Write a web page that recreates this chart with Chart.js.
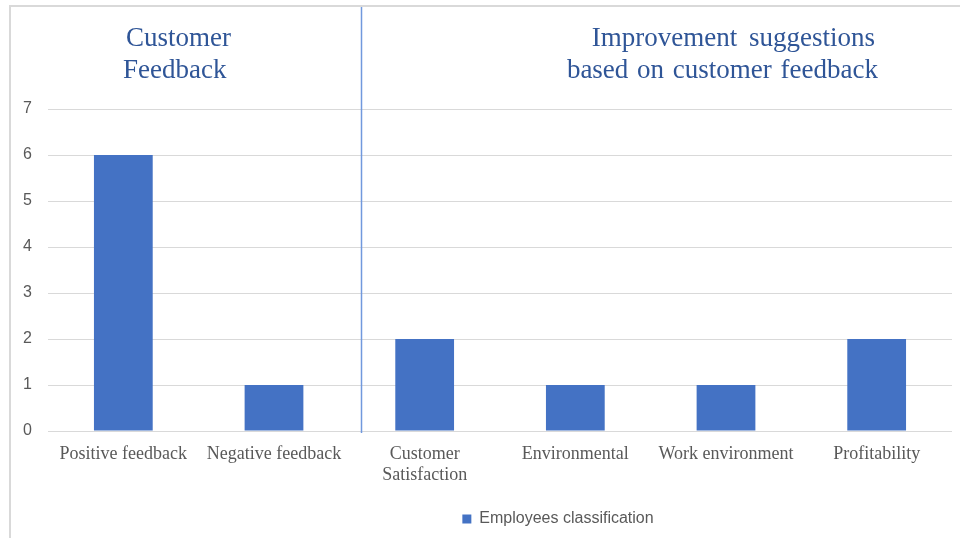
<!DOCTYPE html>
<html>
<head>
<meta charset="utf-8">
<script src="https://cdn.jsdelivr.net/npm/chart.js@4/dist/chart.umd.min.js"></script>
<style>
  html, body { margin: 0; padding: 0; background: #fff; overflow: hidden; }
  .wrap { position: relative; width: 960px; height: 538px; }
  .frame {
    position: absolute; left: 9px; top: 5px; width: 1000px; height: 600px;
    border: 2px solid #d9d9d9; pointer-events: none;
  }
</style>
</head>
<body>
<div class="wrap">
  <canvas id="chart" width="960" height="538"></canvas>
  <div class="frame"></div>
</div>
<script>
// data
const categories = [
  "Positive feedback",
  "Negative feedback",
  ["Customer", "Satisfaction"],
  "Environmental",
  "Work environment",
  "Profitability",
];
const counts = [6, 1, 2, 1, 1, 2];
const seriesName = "Employees classification";
const yTicks = [0, 1, 2, 3, 4, 5, 6, 7];

const titleColor = "#2F5597";
const labelColor = "#595959";

// section titles + divider line between the two groups
const sectionPlugin = {
  id: "sections",
  afterLayout(chart) {
    // legend in the original sits right of centre
    if (chart.legend) {
      chart.legend.left += 82;
      chart.legend.right += 82;
    }
  },
  afterDraw(chart) {
    const ctx = chart.ctx;
    const x = chart.scales.x;
    const divX = Math.round(x.getPixelForValue(1.58)) + 0.5;
    ctx.save();
    ctx.strokeStyle = "#7199DD";
    ctx.lineWidth = 1.5;
    ctx.beginPath();
    ctx.moveTo(divX, 6);
    ctx.lineTo(divX, chart.chartArea.bottom + 2);
    ctx.stroke();

    ctx.fillStyle = titleColor;
    ctx.font = '27px "Liberation Serif"';
    ctx.textBaseline = "middle";
    ctx.textAlign = "left";
    ctx.fillText("Customer", 126, 39);
    ctx.fillText("Feedback", 123, 71);

    ctx.textAlign = "right";
    ctx.wordSpacing = "5px";
    ctx.fillText("Improvement suggestions", 875, 39);
    ctx.wordSpacing = "2px";
    ctx.fillText("based on customer feedback", 878, 71);
    ctx.restore();
  },
};

new Chart(document.getElementById("chart"), {
  type: "bar",
  data: {
    labels: categories,
    datasets: [
      {
        label: seriesName,
        data: counts,
        backgroundColor: "#4472C4",
        borderWidth: 0,
        categoryPercentage: 1,
        barPercentage: 0.39,
      },
    ],
  },
  options: {
    responsive: false,
    animation: false,
    layout: { padding: { top: 109, left: 0, right: 8, bottom: 1 } },
    scales: {
      x: {
        grid: { display: false, drawTicks: false },
        border: { display: false },
        ticks: {
          color: labelColor,
          padding: 13,
          maxRotation: 0,
          autoSkip: false,
          font: { family: "Liberation Serif", size: 18, lineHeight: 1.15 },
        },
        afterFit(scale) {
          scale.height = 70;
        },
      },
      y: {
        min: 0,
        max: 7,
        afterBuildTicks(scale) {
          scale.ticks = yTicks.map((v) => ({ value: v }));
        },
        grid: { color: "#d9d9d9", lineWidth: 1, drawTicks: false },
        border: { display: false },
        ticks: {
          color: labelColor,
          padding: 16,
          font: { family: "Liberation Sans", size: 16 },
        },
        afterFit(scale) {
          scale.width = 48;
        },
      },
    },
    plugins: {
      legend: {
        position: "bottom",
        labels: {
          color: labelColor,
          boxWidth: 9,
          boxHeight: 9,
          padding: 10,
          font: { family: "Liberation Sans", size: 16 },
        },
      },
      tooltip: { enabled: false },
    },
  },
  plugins: [sectionPlugin],
});
</script>
</body>
</html>
